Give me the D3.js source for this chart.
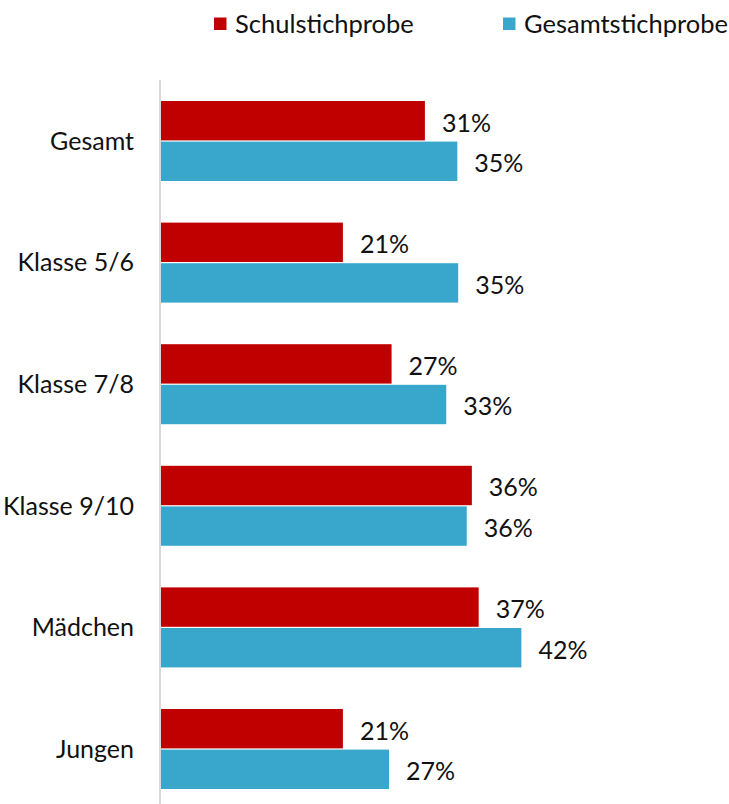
<!DOCTYPE html>
<html>
<head>
<meta charset="utf-8">
<script src="https://cdn.jsdelivr.net/npm/d3@7"></script>
<style>
  body { margin: 0; background: #fff; }
  text { font-family: "Source Sans Pro", "Lato", "Open Sans", sans-serif; fill: #111; }
</style>
</head>
<body>
<div id="chart"></div>
<script>
// Datos
var categorias = ["Gesamt", "Klasse 5/6", "Klasse 7/8", "Klasse 9/10", "Mädchen", "Jungen"];
var series = ["Schulstichprobe", "Gesamtstichprobe"];
var schul = [30.9, 21.3, 27.0, 36.4, 37.2, 21.3];
var gesamt = [34.7, 34.8, 33.4, 35.8, 42.2, 26.7];
var etiquetasSchul = ["31%", "21%", "27%", "36%", "37%", "21%"];
var etiquetasGesamt = ["35%", "35%", "33%", "36%", "42%", "27%"];
var colores = ["#c00000", "#39a7cb"];

var svgWidth = 729, svgHeight = 804;

var svg = d3.select("#chart")
    .append("svg")
    .attr("width", svgWidth)
    .attr("height", svgHeight);

// Escalas
var xScale = d3.scaleLinear()
    .domain([0, 50])
    .range([161, 588]);

var y0 = d3.scaleBand()
    .domain(categorias)
    .range([80, 809.6]);

var y1 = d3.scaleBand()
    .domain(series)
    .range([21, 101])
    .paddingInner(0.03);

var valores = [schul, gesamt];
var etiquetas = [etiquetasSchul, etiquetasGesamt];

var grupos = svg.selectAll("g.grupo")
    .data(categorias)
    .enter().append("g")
    .attr("class", "grupo")
    .attr("transform", function(d) { return "translate(0," + y0(d) + ")"; });

series.forEach(function(s, si) {
  grupos.append("rect")
      .attr("x", xScale(0))
      .attr("y", y1(s))
      .attr("height", y1.bandwidth())
      .attr("width", function(d, i) { return xScale(valores[si][i]) - xScale(0); })
      .attr("fill", colores[si]);

  grupos.append("text")
      .attr("x", function(d, i) { return xScale(valores[si][i]) + 17; })
      .attr("y", y1(s) + y1.bandwidth() / 2 + 2)
      .attr("dy", "0.36em")
      .style("font-size", "25px")
      .text(function(d, i) { return etiquetas[si][i]; });
});

// Etiquetas de categorías
svg.append("g")
  .selectAll("text")
  .data(categorias)
  .enter().append("text")
    .attr("x", 134)
    .attr("y", function(d) { return y0(d) + y0.bandwidth() / 2; })
    .attr("dy", "0.36em")
    .attr("text-anchor", "end")
    .style("font-size", "25px")
    .text(function(d) { return d; });

// Eje vertical
svg.append("line")
    .attr("x1", 160).attr("x2", 160)
    .attr("y1", 80).attr("y2", svgHeight)
    .attr("stroke", "#d9d9d9")
    .attr("stroke-width", 2);

// Leyenda
var leyendaX = [214, 503];
var leyenda = svg.selectAll("g.leyenda")
    .data(series)
    .enter().append("g")
    .attr("class", "leyenda")
    .attr("transform", function(d, i) { return "translate(" + leyendaX[i] + ",17.5)"; });

leyenda.append("rect")
    .attr("width", 12.5)
    .attr("height", 12.5)
    .attr("fill", function(d, i) { return colores[i]; });

leyenda.append("text")
    .attr("x", 21)
    .attr("y", 6.5)
    .attr("dy", "0.36em")
    .style("font-size", "25.5px")
    .text(function(d) { return d; });
</script>
</body>
</html>
